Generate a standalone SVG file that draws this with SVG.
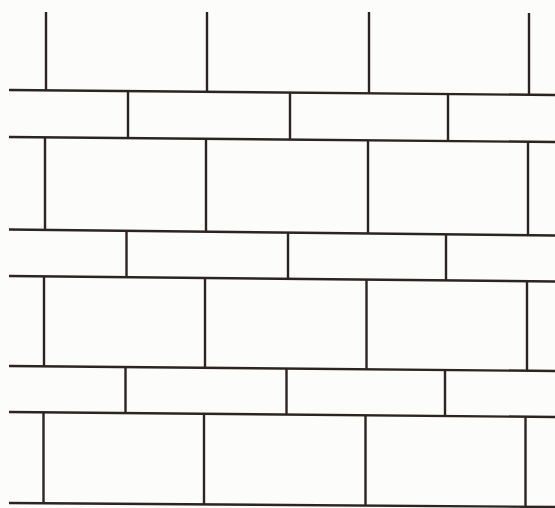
<svg xmlns="http://www.w3.org/2000/svg" width="555" height="508" viewBox="0 0 555 508">
<style>
.l{stroke:#2b2421;stroke-width:2.4;fill:none;stroke-linecap:butt}
</style>
<rect width="555" height="508" fill="#fcfcfa"/>
<g id="courses" class="l">
<line x1="9" y1="90" x2="555" y2="95"/>
<line x1="9" y1="137" x2="555" y2="142"/>
<line x1="9" y1="229.5" x2="555" y2="235.5"/>
<line x1="9" y1="276" x2="555" y2="281.5"/>
<line x1="9" y1="366" x2="555" y2="371"/>
<line x1="9" y1="412" x2="555" y2="417"/>
<line x1="9" y1="503" x2="555" y2="507"/>
</g>
<g id="joints" class="l">
<line x1="46" y1="12" x2="46" y2="90.3"/>
<line x1="207" y1="12" x2="207" y2="91.8"/>
<line x1="369" y1="12" x2="369" y2="93.3"/>
<line x1="529" y1="13" x2="529" y2="94.8"/>
<line x1="128" y1="91.1" x2="128" y2="138.1"/>
<line x1="290" y1="92.6" x2="290" y2="139.6"/>
<line x1="448" y1="94" x2="448" y2="141"/>
<line x1="45" y1="137.3" x2="45" y2="229.9"/>
<line x1="206" y1="138.8" x2="206" y2="231.7"/>
<line x1="368" y1="140.3" x2="368" y2="233.4"/>
<line x1="528" y1="141.8" x2="528" y2="235.2"/>
<line x1="126.5" y1="230.8" x2="126.5" y2="277.2"/>
<line x1="288" y1="232.6" x2="288" y2="278.8"/>
<line x1="446" y1="234.3" x2="446" y2="280.4"/>
<line x1="44" y1="276.4" x2="44" y2="366.3"/>
<line x1="205" y1="278" x2="205" y2="367.8"/>
<line x1="366.5" y1="279.6" x2="366.5" y2="369.3"/>
<line x1="527" y1="281.2" x2="527" y2="370.7"/>
<line x1="125.5" y1="367.1" x2="125.5" y2="413.1"/>
<line x1="286.5" y1="368.5" x2="286.5" y2="414.5"/>
<line x1="445" y1="370" x2="445" y2="416"/>
<line x1="43.5" y1="412.3" x2="43.5" y2="503.3"/>
<line x1="204" y1="413.8" x2="204" y2="504.4"/>
<line x1="365.5" y1="415.3" x2="365.5" y2="505.6"/>
<line x1="525.5" y1="416.7" x2="525.5" y2="506.8"/>
</g>
</svg>
